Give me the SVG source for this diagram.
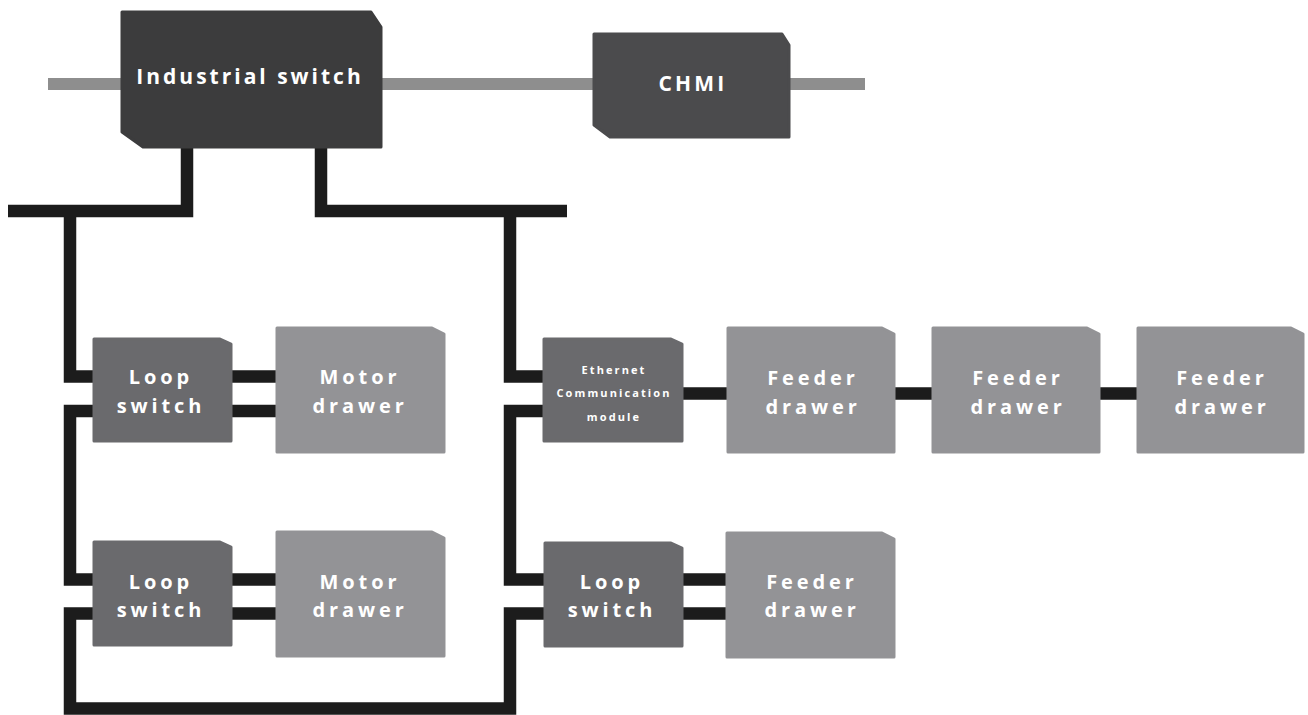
<svg xmlns="http://www.w3.org/2000/svg" width="1308" height="715" viewBox="0 0 1308 715">
<style>
.sw{fill:#3c3c3d;stroke:#3c3c3d;stroke-width:3;stroke-linejoin:round}
.hm{fill:#4b4b4d;stroke:#4b4b4d;stroke-width:3;stroke-linejoin:round}
.ls{fill:#6a6a6d;stroke:#6a6a6d;stroke-width:3;stroke-linejoin:round}
.dr{fill:#939396;stroke:#939396;stroke-width:3;stroke-linejoin:round}
.t{fill:#ffffff;font-family:"Open Sans","Liberation Sans",sans-serif;font-weight:700;text-anchor:middle}
.big{font-size:21px;letter-spacing:3px}
.mid{font-size:20px;letter-spacing:3.9px}
.sm{font-size:11px;letter-spacing:2.1px}
.blk{fill:none;stroke:#1c1c1c;stroke-width:12.5;stroke-linejoin:miter}
.gry{fill:none;stroke:#8e8e8e;stroke-width:12}
</style>
<g id="connectors">
<path class="gry" d="M48,84 H122 M381,84 H594 M789,84 H865"/>
<path class="blk" d="M8,211 H187 V147"/>
<path class="blk" d="M321,147 V211 H567"/>
<path class="blk" d="M70,211 V376.5 H94"/>
<path class="blk" d="M94,411 H70 V579.5 H94"/>
<path class="blk" d="M94,613.5 H70 V708.5 H510 V613.5 H545"/>
<path class="blk" d="M510,211 V376.5 H544"/>
<path class="blk" d="M544,411 H510 V579.5 H545"/>
<path class="blk" d="M231,376.5 H277 M231,411 H277"/>
<path class="blk" d="M231,579.5 H277 M231,613.5 H277"/>
<path class="blk" d="M682,393.5 H728 M894,393.5 H933 M1099,393.5 H1138"/>
<path class="blk" d="M682,579.5 H727 M682,613.5 H727"/>
</g>
<g id="industrial-switch">
<path class="sw" d="M122,12 H371 L381,27 V147 H143 L122,132 Z"/>
<text class="t big" x="250" y="84">Industrial switch</text>
</g>
<g id="chmi">
<path class="hm" d="M594,34 H782 L789,45 V137 H610 L594,125 Z"/>
<text class="t big" x="693" y="91" style="letter-spacing:3.2px">CHMI</text>
</g>
<g id="loop-switch-1">
<path class="ls" d="M94,339 H220 L231,344 V441 H94 Z"/>
<text class="t mid" x="161" y="384">Loop</text>
<text class="t mid" x="161" y="413">switch</text>
</g>
<g id="motor-drawer-1">
<path class="dr" d="M277,328 H432 L444,334 V452 H277 Z"/>
<text class="t mid" x="360" y="384">Motor</text>
<text class="t mid" x="360" y="413">drawer</text>
</g>
<g id="ethernet-module">
<path class="ls" d="M544,339 H671 L682,344 V441 H544 Z"/>
<text class="t sm" x="614" y="374">Ethernet</text>
<text class="t sm" x="614" y="397">Communication</text>
<text class="t sm" x="614" y="421">module</text>
</g>
<g id="feeder-drawer-1">
<path class="dr" d="M728,328 H882 L894,334 V452 H728 Z"/>
<text class="t mid" x="813" y="385">Feeder</text>
<text class="t mid" x="813" y="414">drawer</text>
</g>
<g id="feeder-drawer-2">
<path class="dr" d="M933,328 H1087 L1099,334 V452 H933 Z"/>
<text class="t mid" x="1018" y="385">Feeder</text>
<text class="t mid" x="1018" y="414">drawer</text>
</g>
<g id="feeder-drawer-3">
<path class="dr" d="M1138,328 H1291 L1303,334 V452 H1138 Z"/>
<text class="t mid" x="1222" y="385">Feeder</text>
<text class="t mid" x="1222" y="414">drawer</text>
</g>
<g id="loop-switch-2">
<path class="ls" d="M94,542 H220 L231,547 V645 H94 Z"/>
<text class="t mid" x="161" y="589">Loop</text>
<text class="t mid" x="161" y="617">switch</text>
</g>
<g id="motor-drawer-2">
<path class="dr" d="M277,532 H432 L444,538 V656 H277 Z"/>
<text class="t mid" x="360" y="589">Motor</text>
<text class="t mid" x="360" y="617">drawer</text>
</g>
<g id="loop-switch-3">
<path class="ls" d="M545,543 H671 L682,548 V646 H545 Z"/>
<text class="t mid" x="612" y="589">Loop</text>
<text class="t mid" x="612" y="617">switch</text>
</g>
<g id="feeder-drawer-4">
<path class="dr" d="M727,533 H882 L894,539 V657 H727 Z"/>
<text class="t mid" x="812" y="589">Feeder</text>
<text class="t mid" x="812" y="617">drawer</text>
</g>
</svg>
